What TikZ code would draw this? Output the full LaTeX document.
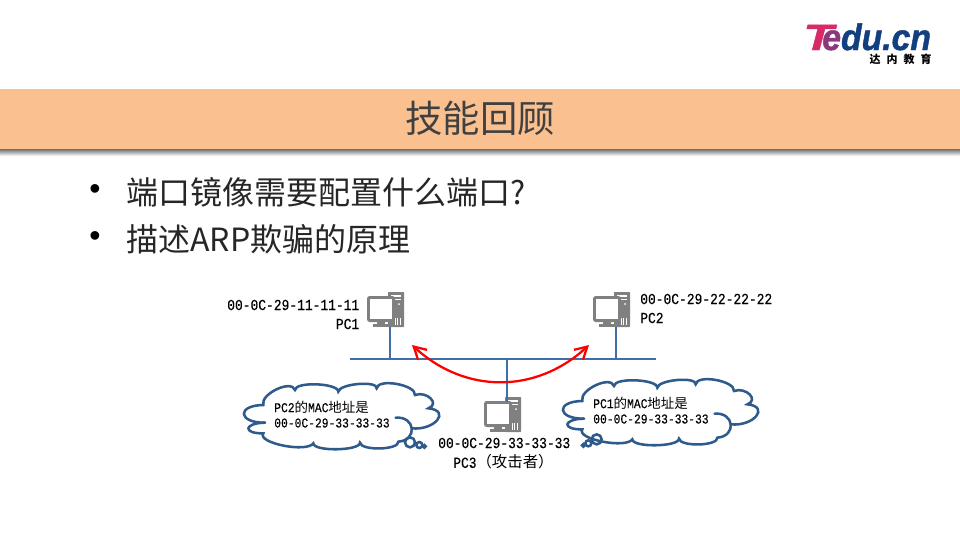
\documentclass[tikz,border=0pt]{standalone}
\usepackage{fontspec}
\usetikzlibrary{arrows.meta}
\setmainfont{Noto Sans CJK SC}
\newfontfamily\cjk{Noto Sans CJK SC}
\newfontfamily\macfont[FakeStretch=0.84,FakeBold=0.25]{Liberation Mono}
\newfontfamily\logofont[FakeStretch=0.92,FakeBold=1.2]{Liberation Sans}
\newfontfamily\logofontT[FakeStretch=1.35,FakeBold=1.2]{Liberation Sans}
\definecolor{bandc}{HTML}{FAC090}
\definecolor{linec}{HTML}{3E6FA8}
\definecolor{cloudc}{HTML}{2F5A8C}
\definecolor{pcgray}{HTML}{808080}
\definecolor{titlec}{HTML}{404040}
\definecolor{bodyc}{HTML}{262626}
\definecolor{tpink}{HTML}{D62B66}
\definecolor{epink}{HTML}{8A3A7C}
\definecolor{logonavy}{HTML}{123F80}
\newcommand{\lbl}[1]{\fontsize{11.55pt}{14pt}\selectfont\macfont #1}
\newcommand{\cl}[1]{\fontsize{10.1pt}{12pt}\selectfont\macfont #1}
\tikzset{
  x=0.75pt,y=-0.75pt,
  txt/.style={inner sep=0pt,text=black,font=\normalsize},
  body/.style={inner sep=0pt,anchor=west,text=bodyc,font=\fontsize{24pt}{28pt}\selectfont\cjk},
  bul/.style={inner sep=0pt,text=black,font=\fontsize{24pt}{28pt}\selectfont\fontspec{Liberation Sans}},
  busline/.style={draw=linec,line width=1.2pt},
  redarrow/.style={draw=red,line width=1.7pt,{Straight Barb[length=9pt,width=10pt,line width=1.7pt]}-{Straight Barb[length=9pt,width=10pt,line width=1.7pt]}},
  cloudline/.style={draw=cloudc,line width=1.9pt},
  pcicon/.pic={
    \fill[pcgray,rounded corners=0.5pt] (21,0) rectangle (37,35);
    \fill[white] (24,3) rectangle (34,5);
    \fill[white] (24,7) rectangle (34,8);
    \fill[white] (32,12) circle (1);
    \fill[white] (28,26) rectangle (35,33);
    \foreach \k in {29,30.5,32,33.5}{\fill[pcgray] (\k,26) rectangle (\k+0.7,33);}
    \fill[white] (19,1) rectangle (21,32);
    \fill[pcgray,rounded corners=2pt] (0,4) rectangle (28,30);
    \fill[white] (3,7) rectangle (25,27);
    \fill[pcgray] (10,30) rectangle (18,32);
    \fill[pcgray] (6,32) rectangle (25,35);
    \coordinate (-bottom) at (23,35);
    \coordinate (-top) at (23,5);
  },
}
\newcommand{\cloudshape}{%
  (130,375) .. controls (120,342) and (215,297) .. (225,330)
  .. controls (225,304) and (355,309) .. (355,335)
  .. controls (358,311) and (473,301) .. (470,325)
  .. controls (473,294) and (588,314) .. (585,345)
  .. controls (621,332) and (661,372) .. (625,385)
  .. controls (694,392) and (644,452) .. (575,445)
}
\newcommand{\cloudlower}{%
  (527,413) .. controls (586,408) and (594,480) .. (535,485)
  .. controls (538,510) and (423,513) .. (420,488)
  .. controls (420,513) and (280,515) .. (280,490)
  .. controls (260,519) and (110,489) .. (130,460)
  .. controls (67,461) and (72,429) .. (135,428)
}
\newcommand{\cloudpath}{%
  \fill[white] \cloudshape -- (535,485)
    .. controls (538,510) and (423,513) .. (420,488)
    .. controls (420,513) and (280,515) .. (280,490)
    .. controls (260,519) and (110,489) .. (130,460)
    .. controls (67,461) and (72,429) .. (135,428)
    .. controls (54,429) and (49,376) .. (130,375) -- cycle;
  \draw[cloudline,line cap=round] (135,428) .. controls (54,429) and (49,376) .. (130,375)
    .. controls (120,342) and (215,297) .. (225,330)
    .. controls (225,304) and (355,309) .. (355,335)
    .. controls (358,311) and (473,301) .. (470,325)
    .. controls (473,294) and (588,314) .. (585,345)
    .. controls (621,332) and (661,372) .. (625,385)
    .. controls (694,392) and (644,452) .. (575,445);
  \draw[cloudline,line cap=round] \cloudlower;
}
\begin{document}
\begin{tikzpicture}
\useasboundingbox (0,0) rectangle (960,540);
\fill[white] (0,0) rectangle (960,540);
% header band
\shade[top color=black!65,bottom color=white] (0,148) rectangle (960,156);
\fill[bandc] (0,89) rectangle (960,149);
\node[inner sep=0pt,text=titlec,font=\fontsize{28pt}{32pt}\selectfont\cjk] (title) at (480,118) {技能回顾};
% logo
\node[inner sep=0pt,anchor=base west,text depth=0pt,text=tpink,font=\fontsize{27.5pt}{30pt}\selectfont\logofontT\bfseries\itshape] (logoT) at (803,50) {T};
\node[inner sep=0pt,anchor=base west,text depth=0pt,font=\fontsize{27.5pt}{30pt}\selectfont\logofont\bfseries\itshape] (logo) at (822,50)
  {\textcolor{epink}{e}\textcolor{logonavy}{du.cn}};
\node[inner sep=0pt,anchor=base east,text depth=0pt,text height=7pt,text=black,font=\fontsize{8.25pt}{10pt}\selectfont\cjk\bfseries] (logocn) at (932,63)
  {达\hspace{4.5pt}内\hspace{4.5pt}教\hspace{4.5pt}育};
% bullets
\node[bul] (b1) at (95,192) {•};
\node[bul] (b2) at (95,239) {•};
\node[body] (t1) at (126,192) {端口镜像需要配置什么端口?};
\node[body] (t2) at (126,239) {描述ARP欺骗的原理};
% network
\coordinate (busL) at (350,359);
\coordinate (busR) at (656,359);
\coordinate (tap1) at (390,359);
\coordinate (tap2) at (616,359);
\coordinate (tap3) at (507,359);
\pic (pc1) at (367,292) {pcicon};
\pic (pc2) at (593,292) {pcicon};
\pic (pc3) at (484,397) {pcicon};
\draw[busline] (busL) -- (busR);
\draw[busline] (pc1-bottom) -- (tap1);
\draw[busline] (pc2-bottom) -- (tap2);
\draw[busline] (tap3) -- (pc3-top);
\coordinate (arrL) at (412,345);
\coordinate (arrR) at (589,345);
\draw[redarrow] (arrL) .. controls (465,394) and (536,394) .. (arrR);
% labels
\node[txt,anchor=east] (m1) at (359.5,305) {\lbl{00-0C-29-11-11-11}};
\node[txt,anchor=east] (n1) at (359.5,324) {\lbl{PC1}};
\node[txt,anchor=west] (m2) at (640,299) {\lbl{00-0C-29-22-22-22}};
\node[txt,anchor=west] (n2) at (640,318) {\lbl{PC2}};
\node[txt,anchor=west] (m3) at (438,443) {\lbl{00-0C-29-33-33-33}};
\node[txt,anchor=west] (n3) at (453,462) {\lbl{PC3{\fontsize{11.55pt}{14pt}\selectfont\cjk（攻击者）}}};
% cloud 1
\begin{scope}[shift={(220,280)},x=0.25pt,y=-0.25pt]
\cloudpath
\draw[cloudline] (570,487) circle (15);
\draw[cloudline] (598,495) circle (9);
\draw[cloudline] (613,499) circle (4);
\end{scope}
% cloud 2
\begin{scope}[shift={(539,276)},x=0.25pt,y=-0.25pt]
\cloudpath
\end{scope}
\begin{scope}[shift={(480,280)},x=0.25pt,y=-0.25pt]
\draw[cloudline] (350,478) circle (15);
\draw[cloudline] (325,490) circle (9);
\draw[cloudline] (310,496) circle (4);
\end{scope}
\node[txt,anchor=west] (c1a) at (274,407) {\cl{PC2{\fontsize{10.1pt}{12pt}\selectfont\cjk 的}MAC{\fontsize{10.1pt}{12pt}\selectfont\cjk 地址是}}};
\node[txt,anchor=west] (c1b) at (274,423) {\cl{00-0C-29-33-33-33}};
\node[txt,anchor=west] (c2a) at (593,403) {\cl{PC1{\fontsize{10.1pt}{12pt}\selectfont\cjk 的}MAC{\fontsize{10.1pt}{12pt}\selectfont\cjk 地址是}}};
\node[txt,anchor=west] (c2b) at (593,419) {\cl{00-0C-29-33-33-33}};
\end{tikzpicture}
\end{document}
